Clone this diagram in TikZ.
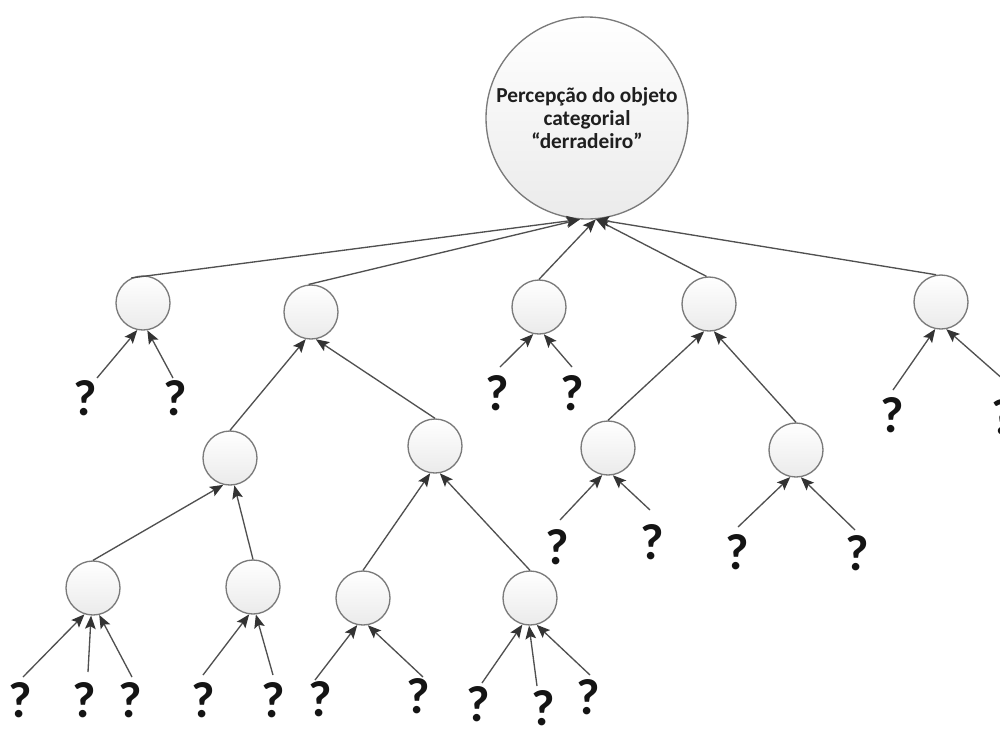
\documentclass[tikz,border=0pt]{standalone}
\usepackage{fontspec}
\setmainfont{Carlito}
\usetikzlibrary{arrows.meta}
\definecolor{circborder}{HTML}{7A7A7A}
\definecolor{linecol}{HTML}{505050}
\definecolor{tipcol}{HTML}{333333}
\begin{document}
\begin{tikzpicture}[x=0.75pt,y=-0.75pt,
  circ/.style={circle,draw=circborder,line width=1pt,top color=white,bottom color=black!8,
    minimum size=40.5pt,inner sep=0pt},
  bigcirc/.style={circ,minimum size=151.5pt,align=center,text=black!88,
    font=\bfseries\fontsize{16}{17}\selectfont},
  qm/.style={font=\bfseries\fontsize{38}{40}\selectfont,inner sep=0pt,text=black!92},
  conn/.style={draw=linecol,line width=1pt,
    -{Stealth[length=10pt,width=8pt,inset=2pt,color=tipcol]}}
]
\useasboundingbox (0,0) rectangle (1000,729);
\clip (0,0) rectangle (1000,729);

% nodes
\node[bigcirc] (top) at (587,118) {Percepção do objeto\\categorial\\“derradeiro”};
\node[circ] (A) at (143,303) {};
\node[circ] (B) at (311,312) {};
\node[circ] (C) at (539,307) {};
\node[circ] (D) at (709,304) {};
\node[circ] (E) at (941,302) {};
\node[circ] (F) at (230,458) {};
\node[circ] (G) at (435,446) {};
\node[circ] (H) at (608,448) {};
\node[circ] (I) at (796,450) {};
\node[circ] (J) at (93,588) {};
\node[circ] (K) at (253,587) {};
\node[circ] (L) at (363,598) {};
\node[circ] (M) at (530,598) {};

% question marks
\node[qm] (qa1) at (85,398) {?};
\node[qm] (qa2) at (175,398) {?};
\node[qm] (qc1) at (497,393) {?};
\node[qm] (qc2) at (572,393) {?};
\node[qm] (qe1) at (892,415) {?};
\node[qm] (qe2) at (1003,417) {?};
\node[qm] (qh1) at (557,547) {?};
\node[qm] (qh2) at (652,542) {?};
\node[qm] (qi1) at (737,552) {?};
\node[qm] (qi2) at (857,553) {?};
\node[qm] (qj1) at (20,700) {?};
\node[qm] (qj2) at (84,700) {?};
\node[qm] (qj3) at (130,700) {?};
\node[qm] (qk1) at (203,700) {?};
\node[qm] (qk2) at (273,700) {?};
\node[qm] (ql1) at (320,699) {?};
\node[qm] (ql2) at (418,696) {?};
\node[qm] (qm1) at (478,704) {?};
\node[qm] (qm2) at (543,708) {?};
\node[qm] (qm3) at (588,697) {?};

% free ends of the connectors above the question marks
\coordinate (sa1) at (97,378);
\coordinate (sa2) at (173,378);
\coordinate (sc1) at (500,367);
\coordinate (sc2) at (572,367);
\coordinate (se1) at (893,390);
\coordinate (se2) at (1004,380);
\coordinate (sh1) at (560,520);
\coordinate (sh2) at (650,510);
\coordinate (si1) at (738,527);
\coordinate (si2) at (855,530);
\coordinate (sj1) at (23,677);
\coordinate (sj2) at (88,672);
\coordinate (sj3) at (132,677);
\coordinate (sk1) at (203,675);
\coordinate (sk2) at (273,675);
\coordinate (sl1) at (315,680);
\coordinate (sl2) at (423,677);
\coordinate (sm1) at (482,683);
\coordinate (sm2) at (537,686);
\coordinate (sm3) at (590,675);

% level 1 -> root
\draw[conn] (A.115) -- (top.266);
\draw[conn] (B.95) -- (top.266);
\draw[conn] (C.north) -- (top.275);
\draw[conn] (D.95) -- (top.275);
\draw[conn] (E.100) -- (top.275);

% inner tree edges
\draw[conn] (F.north) -- (B.259);
\draw[conn] (G.north) -- (B.280);
\draw[conn] (J.north) -- (F.256);
\draw[conn] (K.north) -- (F.279);
\draw[conn] (L.north) -- (G.260);
\draw[conn] (M.north) -- (G.280);
\draw[conn] (H.north) -- (D.260);
\draw[conn] (I.north) -- (D.280);

% leaves
\draw[conn] (sa1) -- (A.258);
\draw[conn] (sa2) -- (A.279);
\draw[conn] (sc1) -- (C.258);
\draw[conn] (sc2) -- (C.280);
\draw[conn] (se1) -- (E.258);
\draw[conn] (se2) -- (E.281);
\draw[conn] (sh1) -- (H.258);
\draw[conn] (sh2) -- (H.280);
\draw[conn] (si1) -- (I.258);
\draw[conn] (si2) -- (I.280);
\draw[conn] (sj1) -- (J.252);
\draw[conn] (sj2) -- (J.266);
\draw[conn] (sj3) -- (J.283);
\draw[conn] (sk1) -- (K.262);
\draw[conn] (sk2) -- (K.276);
\draw[conn] (sl1) -- (L.258);
\draw[conn] (sl2) -- (L.280);
\draw[conn] (sm1) -- (M.254);
\draw[conn] (sm2) -- (M.268);
\draw[conn] (sm3) -- (M.284);
\end{tikzpicture}
\end{document}
